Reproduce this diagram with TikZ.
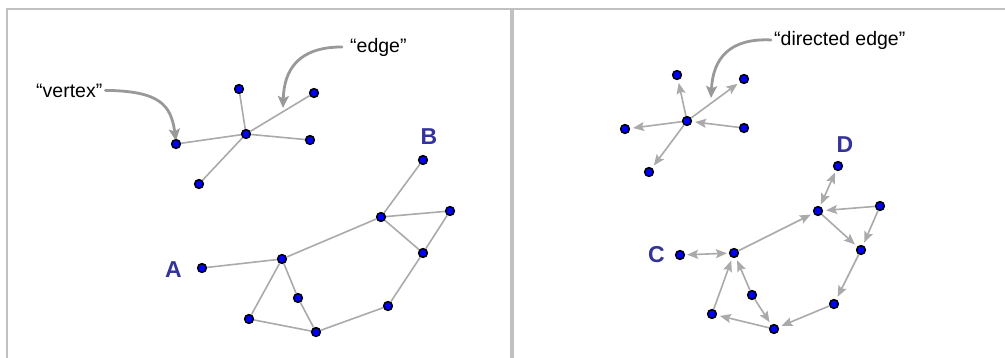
\documentclass[tikz,border=0pt]{standalone}
\usepackage{fontspec}
\setmainfont{Liberation Sans}
\usetikzlibrary{arrows.meta}
\definecolor{framegray}{HTML}{C0C0C0}
\definecolor{edgegray}{HTML}{AAAAAA}
\definecolor{anngray}{HTML}{999999}
\definecolor{labblue}{HTML}{333399}
\begin{document}
\begin{tikzpicture}[x=1pt,y=-1pt,
  dot/.style={circle, draw=black, fill=blue, line width=1.2pt, minimum size=9pt, inner sep=0pt},
  edge/.style={draw=edgegray, line width=1.6pt},
  darr/.style={edge, -{Stealth[length=11pt,width=9pt,inset=2pt]}, shorten >=3pt},
  barr/.style={edge, {Stealth[length=11pt,width=9pt,inset=2pt]}-{Stealth[length=11pt,width=9pt,inset=2pt]}, shorten >=2pt, shorten <=2pt},
  ann/.style={draw=anngray, line width=2.8pt, line cap=round, -{Stealth[length=12pt,width=11pt,inset=2.5pt]}},
  quote/.style={inner sep=0pt, anchor=base west, font=\fontsize{19.5}{22}\selectfont},
  biglab/.style={inner sep=0pt, anchor=base west, text=labblue, font=\fontsize{23}{26}\selectfont\bfseries},
  frame/.style={draw=framegray}
]
\useasboundingbox (0,0) rectangle (1005,358);
% frame
\draw[frame, line width=2pt] (6,9) -- (1005,9);
\draw[frame, line width=2pt] (7,8) -- (7,358);
\draw[frame, line width=3.5pt] (512,9) -- (512,358);

% ---------- left panel: star ----------
\node[dot] (lc) at (246,134) {};
\node[dot] (lt) at (239,89) {};
\node[dot] (ltr) at (314,93) {};
\node[dot] (lr) at (310,140) {};
\node[dot] (ll) at (176,144) {};
\node[dot] (lbl) at (199,184) {};
\draw[edge] (lc) -- (lt);
\draw[edge] (lc) -- (ltr);
\draw[edge] (lc) -- (lr);
\draw[edge] (lc) -- (ll);
\draw[edge] (lc) -- (lbl);

% ---------- left panel: lower graph ----------
\node[dot] (a) at (202,268) {};
\node[dot] (n1) at (282,259) {};
\node[dot] (n2) at (381,217) {};
\node[dot] (b) at (423,160) {};
\node[dot] (n3) at (450,211) {};
\node[dot] (n4) at (423,253) {};
\node[dot] (n5) at (388,306) {};
\node[dot] (n6) at (316,332) {};
\node[dot] (n7) at (298,298) {};
\node[dot] (n8) at (249,319) {};
\draw[edge] (a) -- (n1);
\draw[edge] (n1) -- (n2);
\draw[edge] (n2) -- (b);
\draw[edge] (n2) -- (n3);
\draw[edge] (n2) -- (n4);
\draw[edge] (n3) -- (n4);
\draw[edge] (n4) -- (n5);
\draw[edge] (n5) -- (n6);
\draw[edge] (n6) -- (n7);
\draw[edge] (n7) -- (n1);
\draw[edge] (n1) -- (n8);
\draw[edge] (n8) -- (n6);

\node[biglab] (labA) at (165,278) {A};
\node[biglab] (labB) at (420.5,145) {B};

% annotations left
\node[quote] (vtext) at (36,98) {“vertex”};
\node[quote] (etext) at (350,53) {“edge”};
\coordinate (etip) at (283,108);
\draw[ann] ([xshift=3pt,yshift=1pt]vtext.east) .. controls (160,91) and (171,105) .. ([yshift=-2pt]ll.north);
\draw[ann] ([xshift=-8pt,yshift=1pt]etext.west) .. controls (298,47) and (284,70) .. (etip);

% ---------- right panel: star ----------
\node[dot] (rc) at (687,121) {};
\node[dot] (rt) at (677,75) {};
\node[dot] (rtr) at (744,79) {};
\node[dot] (rr) at (744,128) {};
\node[dot] (rl) at (625,129) {};
\node[dot] (rbl) at (649,172) {};
\draw[darr] (rc) -- (rt);
\draw[darr] (rc) -- (rtr);
\draw[darr] (rr) -- (rc);
\draw[darr] (rc) -- (rl);
\draw[darr] (rc) -- (rbl);

\node[quote] (dtext) at (774,46) {“directed edge”};
\coordinate (dtip) at (711,98);
\draw[ann] ([xshift=-3pt,yshift=1pt]dtext.west) .. controls (730,38) and (713,58) .. (dtip);

% ---------- right panel: lower graph ----------
\node[dot] (cc) at (680,255) {};
\node[dot] (m1) at (734,253) {};
\node[dot] (m2) at (818,211) {};
\node[dot] (d) at (838,166) {};
\node[dot] (m3) at (880,206) {};
\node[dot] (m4) at (861,250) {};
\node[dot] (m5) at (834,304) {};
\node[dot] (m6) at (774,329) {};
\node[dot] (m7) at (752,295) {};
\node[dot] (m8) at (712,314) {};
\draw[barr] (cc) -- (m1);
\draw[darr] (m1) -- (m2);
\draw[barr] (m2) -- (d);
\draw[darr] (m3) -- (m2);
\draw[darr] (m2) -- (m4);
\draw[darr] (m3) -- (m4);
\draw[darr] (m4) -- (m5);
\draw[darr] (m5) -- (m6);
\draw[darr] (m6) -- (m8);
\draw[darr] (m8) -- (m1);
\draw[darr] (m7) -- (m1);
\draw[darr] (m7) -- (m6);

\node[biglab] (labC) at (648,262.5) {C};
\node[biglab] (labD) at (836.5,152.5) {D};

% redraw dots on top of edges
\foreach \n in {lc,lt,ltr,lr,ll,lbl,a,n1,n2,b,n3,n4,n5,n6,n7,n8,rc,rt,rtr,rr,rl,rbl,cc,m1,m2,d,m3,m4,m5,m6,m7,m8}
  \draw[black, fill=blue, line width=1.2pt] (\n.center) circle[radius=4.2pt];
\end{tikzpicture}
\end{document}
